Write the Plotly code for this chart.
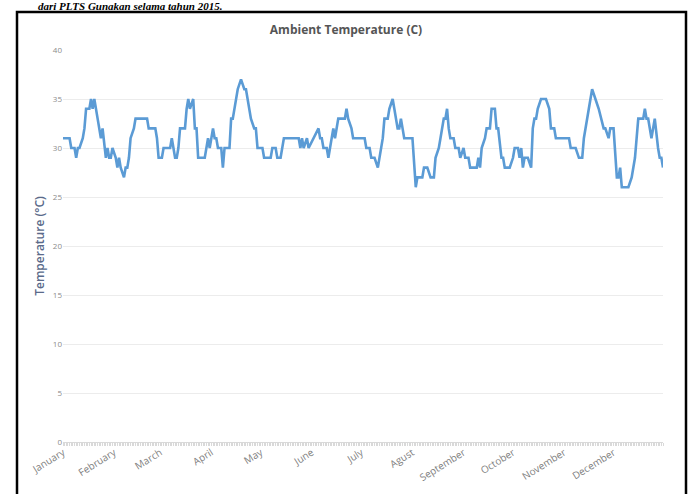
import datetime as dt
import plotly.graph_objects as go

# Day of year (2015) and ambient temperature readings (deg C)
days = [1, 5, 6, 8, 9, 10, 11, 13, 14, 15, 17, 18, 19, 20, 22, 23, 24, 25, 27, 28,
        29, 30, 31, 33, 34, 35, 36, 38, 39, 40, 41, 42, 44, 45, 52, 53, 57, 58, 59, 61,
        62, 66, 67, 69, 70, 71, 72, 75, 76, 77, 78, 80, 81, 82, 83, 87, 88, 89, 90, 92,
        93, 94, 95, 97, 98, 99, 102, 103, 104, 106, 107, 109, 111, 112, 113, 115, 117, 118, 119, 122,
        123, 127, 128, 130, 131, 133, 135, 144, 145, 146, 147, 149, 150, 153, 156, 157, 158, 159, 161, 162,
        163, 165, 166, 168, 172, 173, 174, 176, 177, 184, 185, 187, 188, 190, 192, 193, 195, 196, 198, 199,
        201, 202, 204, 205, 206, 207, 208, 213, 215, 216, 219, 220, 222, 224, 226, 227, 229, 230, 232, 233,
        234, 235, 236, 238, 239, 241, 242, 244, 245, 247, 248, 252, 253, 254, 255, 257, 258, 260, 261, 263,
        264, 265, 267, 268, 269, 272, 274, 275, 277, 278, 279, 280, 281, 283, 285, 286, 287, 288, 289, 291,
        294, 296, 297, 299, 300, 308, 309, 312, 314, 316, 317, 320, 322, 324, 326, 329, 330, 332, 333, 335,
        337, 338, 339, 340, 344, 346, 348, 349, 350, 353, 354, 355, 356, 358, 360, 362, 363, 364, 365]
temps = [31, 31, 30, 30, 29, 30, 30, 31, 32, 34, 34, 35, 34, 35, 33, 32, 31, 32, 29, 30,
         29, 29, 30, 29, 28, 29, 28, 27, 28, 28, 29, 31, 32, 33, 33, 32, 32, 31, 29, 29,
         30, 30, 31, 29, 29, 30, 32, 32, 34, 35, 34, 35, 32, 32, 29, 29, 30, 31, 30, 32,
         31, 31, 30, 30, 28, 30, 30, 33, 33, 35, 36, 37, 36, 36, 35, 33, 32, 32, 30, 30,
         29, 29, 30, 30, 29, 29, 31, 31, 30, 31, 30, 31, 30, 31, 32, 31, 31, 30, 30, 29,
         30, 32, 31, 33, 33, 34, 33, 32, 31, 31, 30, 30, 29, 29, 28, 29, 31, 33, 33, 34,
         35, 34, 32, 32, 33, 32, 31, 31, 26, 27, 27, 28, 28, 27, 27, 29, 30, 31, 33, 33,
         34, 32, 31, 31, 30, 30, 29, 30, 29, 29, 28, 28, 29, 28, 30, 31, 32, 32, 34, 34,
         32, 32, 29, 29, 28, 28, 29, 30, 30, 29, 30, 28, 29, 29, 28, 32, 33, 33, 34, 35,
         35, 34, 32, 32, 31, 31, 30, 30, 29, 29, 31, 34, 36, 35, 34, 32, 32, 31, 32, 32,
         27, 27, 28, 26, 26, 27, 29, 31, 33, 33, 34, 33, 33, 31, 33, 30, 29, 29, 28]

month_names = ["January", "February", "March", "April", "May", "June", "July",
               "Agust", "September", "October", "November", "December"]
y_ticks = [0, 5, 10, 15, 20, 25, 30, 35, 40]

start = dt.date(2015, 1, 1)
dates = [start + dt.timedelta(days=d - 1) for d in days]
month_starts = [dt.date(2015, m, 1) for m in range(1, 13)]

W, H = 692, 494
L, R, T, B = 63, 29, 50, 52
PW, PH = W - L - R, H - T - B

fig = go.Figure()
fig.add_trace(go.Scatter(
    x=dates, y=temps, mode="lines",
    line=dict(color="#5b9bd5", width=2.6),
    showlegend=False, hoverinfo="skip",
))

fig.update_layout(
    width=W, height=H,
    margin=dict(l=L, r=R, t=T, b=B, autoexpand=False),
    paper_bgcolor="white", plot_bgcolor="white",
    title=dict(text="Ambient Temperature (C)", x=0.5, xanchor="center",
               y=1 - 30 / H, yanchor="middle",
               font=dict(family="Open Sans, Liberation Sans, sans-serif", size=12,
                         color="#555555", weight=700)),
    font=dict(family="Open Sans, Liberation Sans, sans-serif"),
)

fig.update_xaxes(
    type="date", automargin=False,
    range=[dt.date(2015, 1, 1), dt.date(2015, 12, 31)],
    tickvals=month_starts, ticktext=month_names,
    tickangle=-32,
    tickfont=dict(size=10, color="#7f7f7f"),
    showgrid=False, zeroline=False,
    showline=True, linecolor="#d9d9d9", linewidth=1,
    ticks="",
    minor=dict(ticks="outside", dtick=86400000, ticklen=3, tickcolor="#d9d9d9", showgrid=False),
)
fig.update_yaxes(
    range=[0, 40], tickvals=y_ticks, automargin=False,
    tickfont=dict(size=8, color="#8c8c8c"),
    showgrid=True, gridcolor="#ececec", gridwidth=1,
    zeroline=False, showline=False, ticks="",
    title=dict(text="Temperature (°C)", standoff=5,
               font=dict(size=12, color="#5a6a8a", weight=600)),
)

# Document frame around the chart
fig.add_shape(type="rect", xref="paper", yref="paper",
              x0=(17 - L) / PW, x1=(686 - L) / PW,
              y0=(H - T - 510) / PH, y1=(H - B - 12) / PH,
              line=dict(color="black", width=2.5), fillcolor="rgba(0,0,0,0)", layer="above")

# Caption text above the frame
fig.add_annotation(text="<b><i>dari PLTS Gunakan selama tahun 2015.</i></b>",
                   xref="paper", yref="paper",
                   x=(37 - L) / PW, y=(H - B + 0.5) / PH,
                   xanchor="left", yanchor="top", showarrow=False, borderpad=0,
                   font=dict(family="Liberation Serif, Times New Roman, serif", size=11,
                             color="black"))

fig.write_html("out.html", config={"displayModeBar": False},
               post_script="document.body.style.margin='0';document.body.style.overflow='hidden';")
